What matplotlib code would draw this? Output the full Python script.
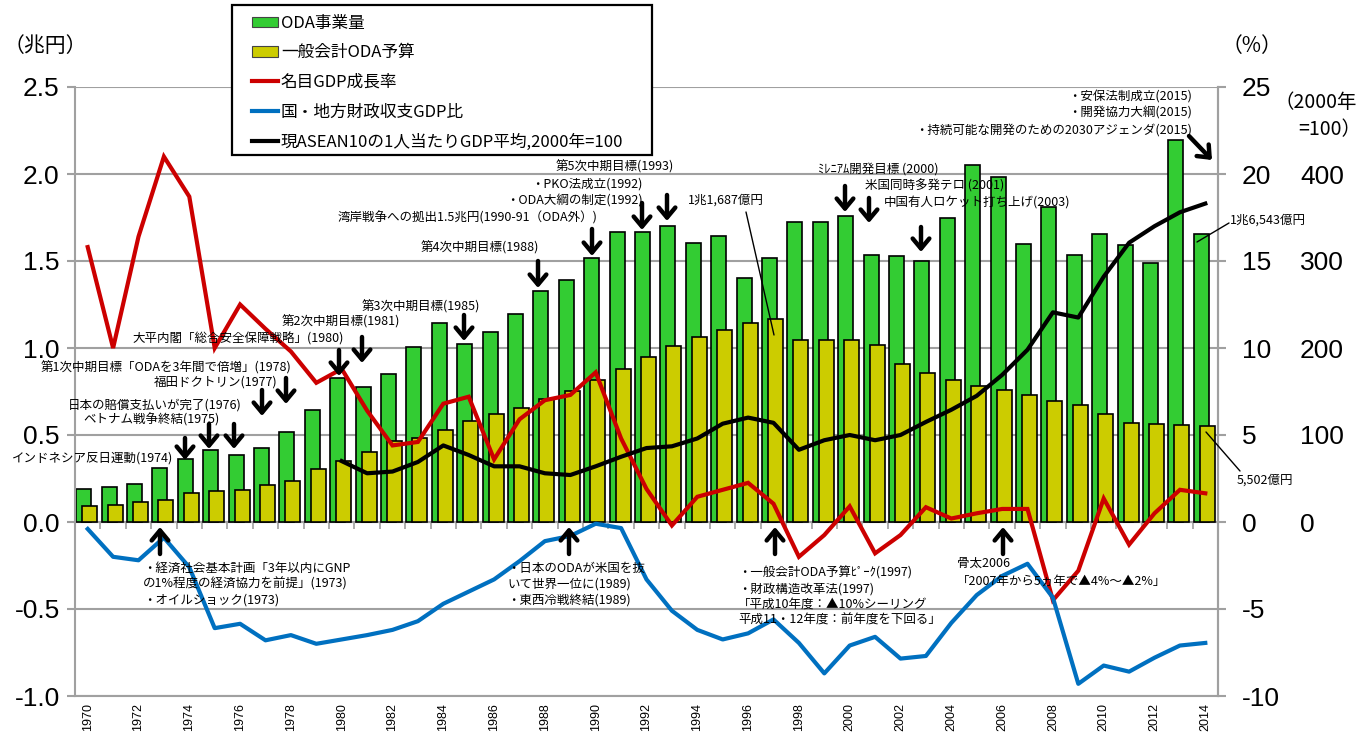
import numpy as np
import matplotlib
matplotlib.use('Agg')
import matplotlib.pyplot as plt
from matplotlib.patches import Patch, Rectangle
from matplotlib.lines import Line2D

plt.rcParams['font.family'] = ['Noto Sans CJK JP', 'DejaVu Sans']

years = list(range(1970, 2015))
oda_volume = [0.19, 0.20, 0.22, 0.31, 0.36, 0.415, 0.385, 0.425, 0.52, 0.645,
              0.83, 0.775, 0.85, 1.005, 1.145, 1.025, 1.09, 1.195, 1.33, 1.39,
              1.515, 1.665, 1.665, 1.70, 1.605, 1.645, 1.405, 1.52, 1.725, 1.725,
              1.757, 1.535, 1.53, 1.50, 1.748, 2.05, 1.985, 1.60, 1.81, 1.537,
              1.655, 1.59, 1.49, 2.195, 1.6543]
oda_budget = [0.092, 0.10, 0.115, 0.128, 0.167, 0.177, 0.184, 0.21, 0.234, 0.303,
              0.35, 0.40, 0.465, 0.48, 0.53, 0.58, 0.62, 0.657, 0.707, 0.755,
              0.816, 0.88, 0.95, 1.013, 1.063, 1.105, 1.145, 1.1687, 1.048, 1.048,
              1.048, 1.015, 0.91, 0.857, 0.816, 0.78, 0.76, 0.728, 0.697, 0.67,
              0.619, 0.571, 0.561, 0.557, 0.5502]
gdp_growth = [15.8, 10.0, 16.4, 21.0, 18.7, 10.0, 12.5, 11.1, 9.8, 8.0,
              8.8, 6.4, 4.4, 4.6, 6.8, 7.2, 3.6, 5.9, 7.0, 7.3,
              8.6, 4.8, 1.9, -0.2, 1.45, 1.85, 2.25, 1.05, -2.0, -0.75,
              0.9, -1.8, -0.75, 0.85, 0.2, 0.5, 0.75, 0.75, -4.5, -2.8,
              1.35, -1.3, 0.5, 1.85, 1.65]
fiscal_balance = [-0.4, -2.0, -2.2, -0.9, -2.6, -6.1, -5.85, -6.8, -6.5, -7.0,
                  -6.75, -6.5, -6.2, -5.7, -4.7, -4.0, -3.3, -2.25, -1.1, -0.8,
                  -0.1, -0.35, -3.3, -5.1, -6.2, -6.75, -6.4, -5.6, -6.95, -8.7,
                  -7.1, -6.6, -7.85, -7.7, -5.8, -4.2, -3.1, -2.4, -4.35, -9.3,
                  -8.25, -8.6, -7.8, -7.1, -6.95]
asean_index = [np.nan] * 10 + [70, 56, 58, 69, 88, 77, 64, 64, 56, 54,
                               64, 75, 85, 87, 96, 113, 120, 114, 83, 94,
                               100, 94, 100, 115, 129, 145, 169, 198, 241, 235,
                               282, 321, 340, 356, 366]
left_ticks = [-1.0, -0.5, 0.0, 0.5, 1.0, 1.5, 2.0, 2.5]
pct_ticks = [-10, -5, 0, 5, 10, 15, 20, 25]
idx_ticks = [0, 100, 200, 300, 400]

legend_labels = ['ODA事業量', '一般会計ODA予算', '名目GDP成長率',
                 '国・地方財政収支GDP比', '現ASEAN10の1人当たりGDP平均,2000年=100']

GREEN, YELLOW, RED, BLUE = '#33CC33', '#CCCC00', '#CC0000', '#0070C0'
GRID = '#A0A0A0'
NUMFONT = 'Liberation Sans'

W, H = 1363, 733
fig = plt.figure(figsize=(W / 100, H / 100), dpi=100)
L, R, T, B = 75, 1218, 87, 696
ax = fig.add_axes([L / W, 1 - B / H, (R - L) / W, (B - T) / H])
x = np.arange(len(years))

ax.bar(x - 0.16, oda_volume, width=0.59, color=GREEN, edgecolor='black', linewidth=1.2, zorder=2)
ax.bar(x + 0.08, oda_budget, width=0.59, color=YELLOW, edgecolor='black', linewidth=1.2, zorder=3)
ax.set_xlim(-0.5, 44.5)
ax.set_ylim(-1.0, 2.5)
ax.set_yticks(left_ticks)
ax.set_yticklabels([f'{v:.1f}' for v in left_ticks], fontfamily=NUMFONT, fontsize=19)
ax.yaxis.grid(True, color=GRID, lw=1.5)
ax.set_axisbelow(True)
ax.set_xticks(x[::2])
ax.set_xticklabels([str(years[i]) for i in x[::2]], rotation=90, fontsize=9, fontfamily=NUMFONT)
ax.tick_params(axis='x', length=0, pad=5)
ax.tick_params(axis='y', length=6, color=GRID, width=1.5, pad=5)
for s in ['left', 'right', 'bottom']:
    ax.spines[s].set_color(GRID)
    ax.spines[s].set_linewidth(1.5)
ax.spines['top'].set_visible(False)

sec = ax.secondary_xaxis(1 / 3.5)
sec.set_xticks(np.arange(-0.5, 45, 1))
sec.set_xticklabels([])
sec.tick_params(length=5, color=GRID, width=1.2, direction='out')
sec.spines['bottom'].set_color(GRID)
sec.spines['bottom'].set_linewidth(1.5)

ax2 = ax.twinx()
ax2.set_ylim(-10, 25)
ax2.set_yticks(pct_ticks)
ax2.set_yticklabels([str(v) for v in pct_ticks], fontfamily=NUMFONT, fontsize=19)
ax2.tick_params(axis='y', length=6, color=GRID, width=1.5, pad=11)
ax2.plot(x, gdp_growth, color=RED, lw=3, solid_joinstyle='miter', zorder=3)
ax2.plot(x, fiscal_balance, color=BLUE, lw=3, zorder=3)
for s in ['left', 'top']:
    ax2.spines[s].set_visible(False)
ax2.spines['right'].set_color(GRID)
ax2.spines['right'].set_linewidth(1.5)
ax2.spines['bottom'].set_visible(False)

ax3 = ax.twinx()
ax3.set_ylim(-200, 500)
ax3.set_yticks(idx_ticks)
ax3.set_yticklabels([str(v) for v in idx_ticks], fontfamily=NUMFONT, fontsize=19)
ax3.tick_params(axis='y', length=0, pad=59)
ax3.plot(x, asean_index, color='black', lw=3, zorder=4)
for s in ax3.spines.values():
    s.set_visible(False)

# axis unit labels
fig.text(4 / W, 1 - 46 / H, '（兆円）', fontsize=15, va='center', ha='left')
fig.text(1222 / W, 1 - 46 / H, '（%）', fontsize=15, va='center', ha='left')
fig.text(1274 / W, 1 - 103 / H, '（2000年', fontsize=14, va='center', ha='left')
fig.text(1298 / W, 1 - 130 / H, '=100）', fontsize=14, va='center', ha='left')

# legend
fig.add_artist(Rectangle((232 / W, 1 - 155 / H), 420 / W, 150 / H, transform=fig.transFigure,
                         facecolor='white', edgecolor='black', lw=1.6, zorder=10))
handles = [Patch(facecolor=GREEN, edgecolor='#444444', lw=0.8),
           Patch(facecolor=YELLOW, edgecolor='#444444', lw=0.8),
           Line2D([], [], color=RED, lw=3),
           Line2D([], [], color=BLUE, lw=3),
           Line2D([], [], color='black', lw=3)]
leg = fig.legend(handles, legend_labels, loc='upper left', bbox_to_anchor=(240 / W, 1 - 3 / H),
                 frameon=False, fontsize=12, borderpad=0.2, handlelength=1.6, handleheight=0.6,
                 handletextpad=0.15, labelspacing=0.76)
leg.set_zorder(11)


def P(xp, yp):
    return (xp, H - yp)


def label(xp, yp, s, ha='left', size=9):
    fig.text(xp / W, 1 - yp / H, s, ha=ha, va='center', fontsize=size, zorder=12)


def arrow(x0, y0, x1, y1):
    ax3.annotate('', xy=P(x1, y1), xytext=P(x0, y0), xycoords='figure pixels',
                 textcoords='figure pixels',
                 arrowprops=dict(arrowstyle='->,head_length=0.6,head_width=0.5', lw=3.2,
                                 color='black', mutation_scale=12, shrinkA=0, shrinkB=0))


def thin(x0, y0, x1, y1):
    ax3.annotate('', xy=P(x1, y1), xytext=P(x0, y0), xycoords='figure pixels',
                 textcoords='figure pixels',
                 arrowprops=dict(arrowstyle='-', lw=1.0, color='black', shrinkA=0, shrinkB=0))


# upper annotations
label(173, 458, 'インドネシア反日運動(1974)', ha='right')
label(151, 420, 'ベトナム戦争終結(1975)', ha='center')
label(155, 405, '日本の賠償支払いが完了(1976)', ha='center')
label(216, 382, '福田ドクトリン(1977)', ha='center')
label(166, 368, '第1次中期目標「ODAを3年間で倍増」(1978)', ha='center')
label(238, 339, '大平内閣「総合安全保障戦略」(1980)', ha='center')
label(341, 322, '第2次中期目標(1981)', ha='center')
label(421, 307, '第3次中期目標(1985)', ha='center')
label(480, 248, '第4次中期目標(1988)', ha='center')
label(468, 218, '湾岸戦争への拠出1.5兆円(1990-91（ODA外）)', ha='center')
label(643, 201, '・ODA大綱の制定(1992)', ha='right')
label(643, 184, '・PKO法成立(1992)', ha='right')
label(615, 167, '第5次中期目標(1993)', ha='center')
label(726, 200, '1兆1,687億円', ha='center')
label(818, 169, 'ﾐﾚﾆｱﾑ開発目標 (2000)')
label(865, 186, '米国同時多発テロ (2001)')
label(884, 202, '中国有人ロケット打ち上げ(2003)')
label(1192, 97, '・安保法制成立(2015)', ha='right')
label(1192, 113, '・開発協力大綱(2015)', ha='right')
label(1192, 130, '・持続可能な開発のための2030アジェンダ(2015)', ha='right')
label(1230, 220, '1兆6,543億円')
label(1237, 480, '5,502億円')

# lower annotations
for i, s in enumerate(['・経済社会基本計画「3年以内にGNP', 'の1%程度の経済協力を前提」(1973)',
                       '・オイルショック(1973)']):
    label(143, 568 + 16 * i, s)
for i, s in enumerate(['・日本のODAが米国を抜', 'いて世界一位に(1989)', '・東西冷戦終結(1989)']):
    label(507, 568 + 16 * i, s)
for i, s in enumerate(['・一般会計ODA予算ﾋﾟｰｸ(1997)', '・財政構造改革法(1997)',
                       '「平成10年度：▲10%シーリング', '平成11・12年度：前年度を下回る」']):
    label(738, 573 + 15.7 * i, s)
label(957, 563, '骨太2006')
label(957, 581, '「2007年から5ヵ年で▲4%～▲2%」')

# arrows (down)
for ax_, y0, y1 in [(185, 438, 460), (209, 424, 449), (234, 424, 449), (262, 390, 416),
                    (286, 378, 404), (339, 350, 376), (362, 337, 363), (464, 315, 341),
                    (538, 261, 288), (592, 229, 256), (642, 203, 230), (667, 195, 221),
                    (845, 186, 212), (869, 198, 223), (921, 227, 252)]:
    arrow(ax_, y0, ax_, y1)
arrow(1189, 136, 1212, 160)
# arrows (up)
for ax_ in [160, 569, 775, 1003]:
    arrow(ax_, 554, ax_, 527)

thin(746, 212, 774, 335)
thin(1229, 223, 1197, 242)
thin(1240, 471, 1206, 432)

fig.savefig('out.png', dpi=100)
